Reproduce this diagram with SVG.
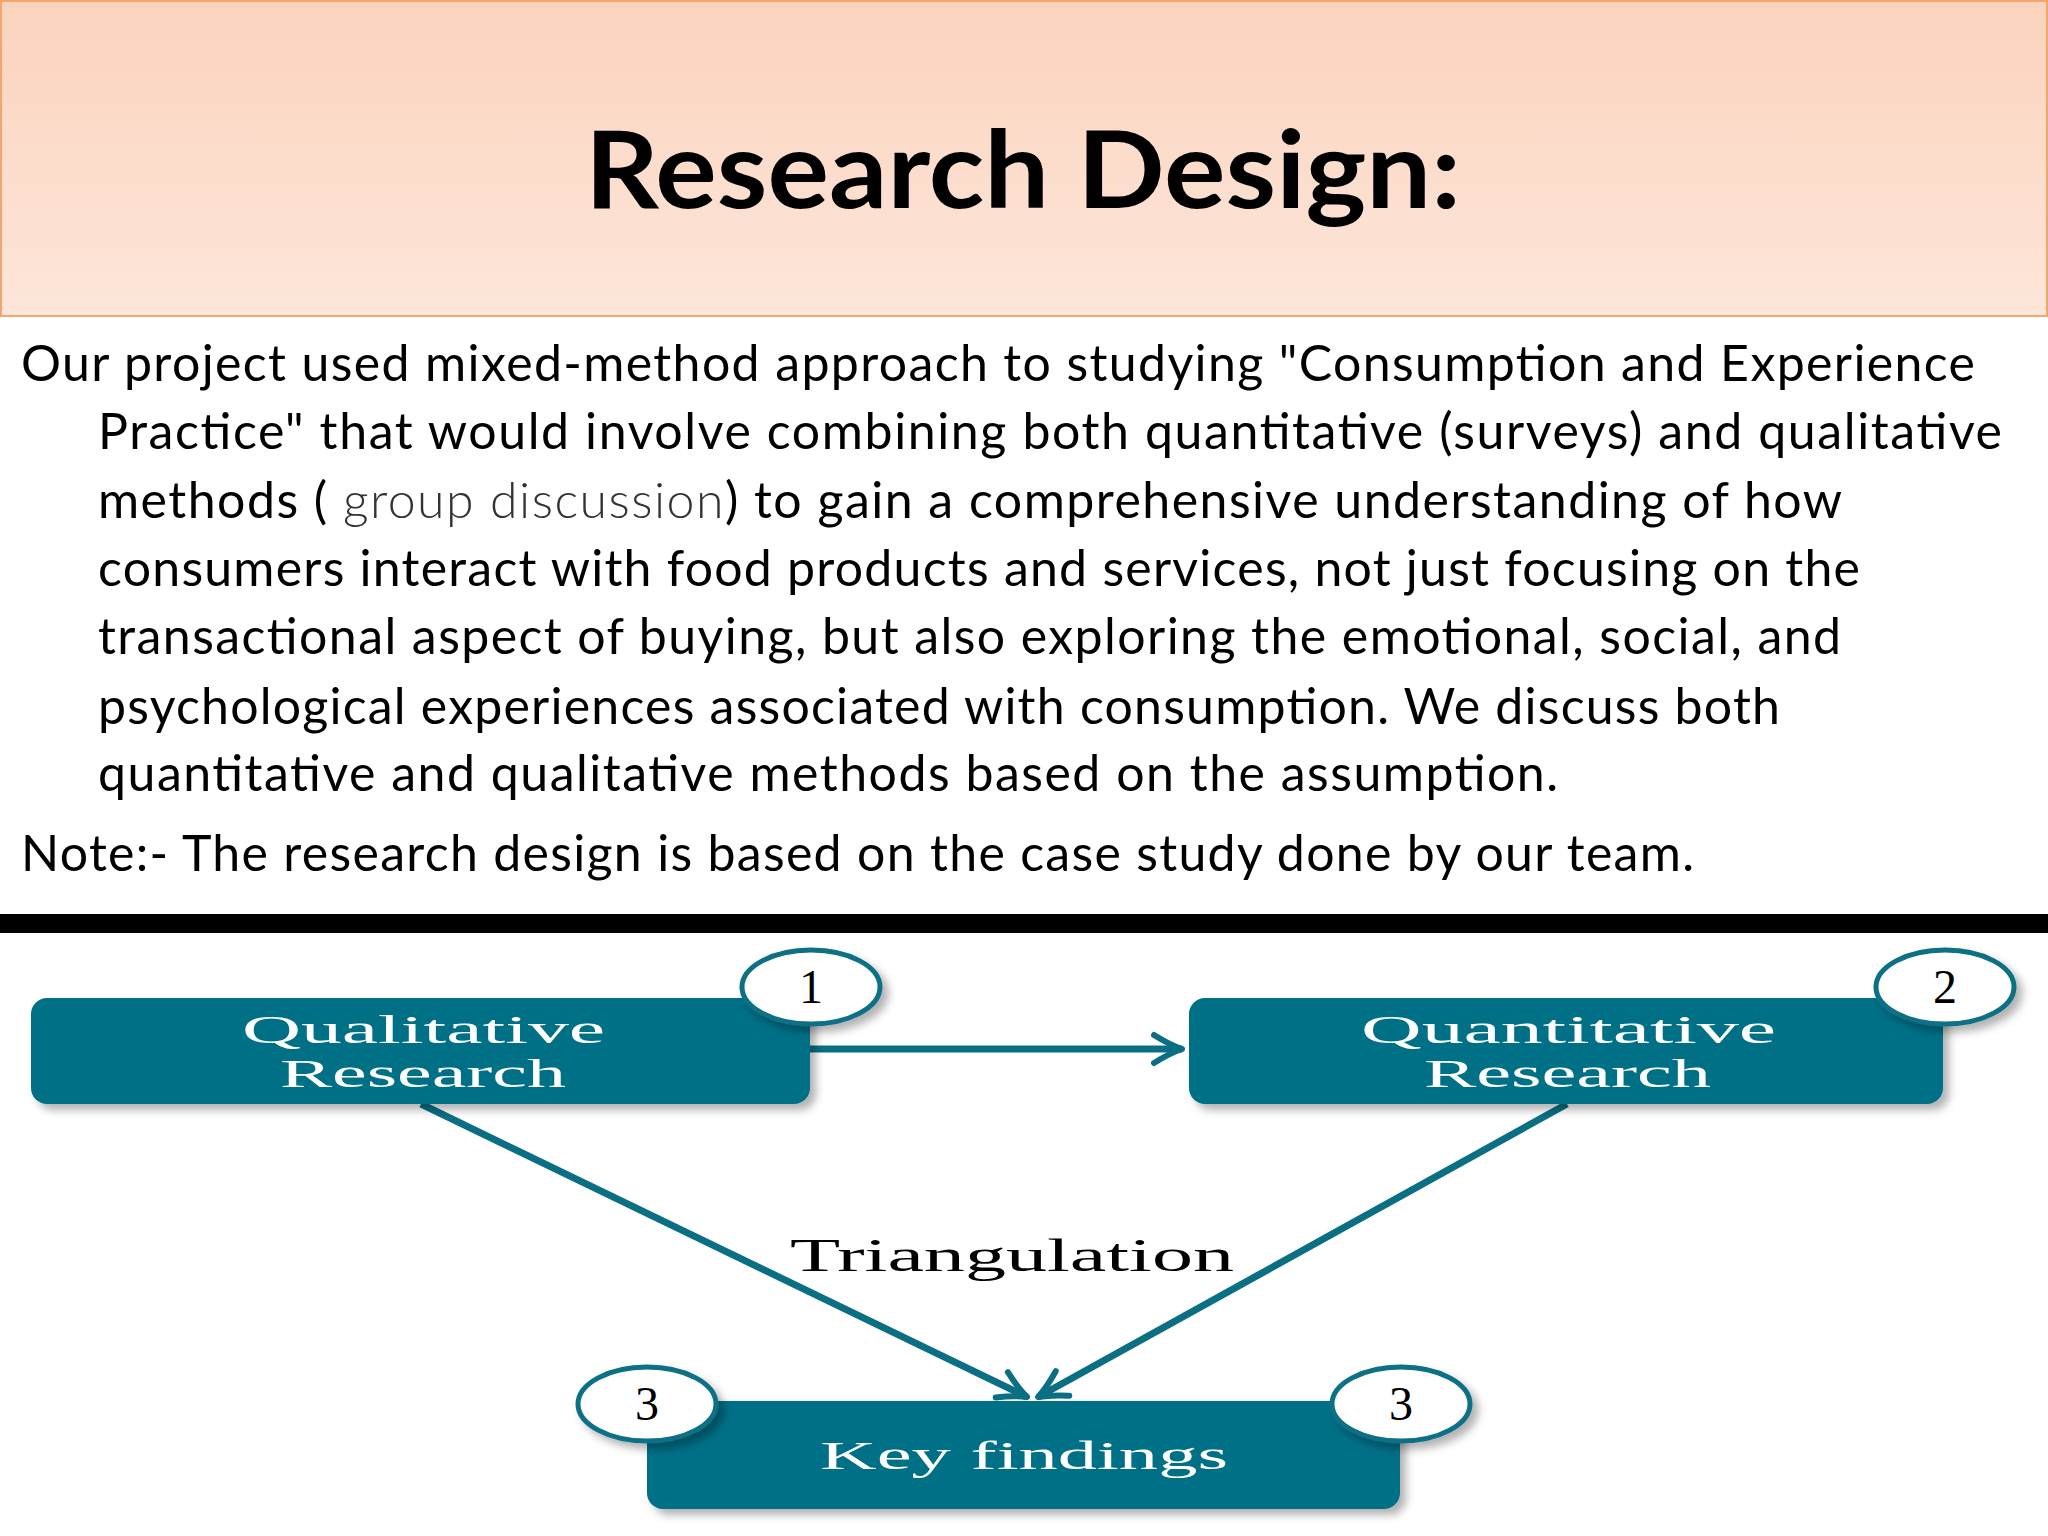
<svg xmlns="http://www.w3.org/2000/svg" width="2048" height="1536" viewBox="0 0 2048 1536">
<defs>
<linearGradient id="hg" x1="0" y1="0" x2="0" y2="1"><stop offset="0" stop-color="#fbd3bd"/><stop offset="1" stop-color="#fde6da"/></linearGradient>
<filter id="sh" x="-10%" y="-20%" width="125%" height="150%"><feDropShadow dx="6" dy="6" stdDeviation="4" flood-color="#000" flood-opacity="0.3"/></filter>
<marker id="ah" viewBox="0 0 40 40" refX="34" refY="20" markerWidth="40" markerHeight="40" markerUnits="userSpaceOnUse" orient="auto" overflow="visible">
<path d="M6,6 Q22,16 34,20 Q22,24 6,34" fill="none" stroke="#0b6f84" stroke-width="6" stroke-linecap="round" stroke-linejoin="round"/>
</marker>
<style>
.body{font-family:Lato,"Open Sans",sans-serif;font-size:50px;fill:#000}
.box{fill:#006f87;filter:url(#sh)}
.bt{font-family:"Liberation Serif","DejaVu Serif",serif;font-size:40px;fill:#fff}
.num{fill:#fff;stroke:#0b6f84;stroke-width:5;filter:url(#sh)}
.nt{font-family:"Liberation Serif","DejaVu Serif",serif;font-size:48px;fill:#000;text-anchor:middle}
.con{stroke:#0b6f84;stroke-width:7;fill:none}
</style>
</defs>
<rect width="2048" height="1536" fill="#fff"/>
<g id="header">
<rect x="1" y="1" width="2046" height="315" fill="url(#hg)" stroke="#f3a66e" stroke-width="2"/>
<text x="1023" y="208" text-anchor="middle" font-family="Lato,'Open Sans',sans-serif" font-weight="bold" font-size="108" textLength="876" lengthAdjust="spacingAndGlyphs">Research Design:</text>
</g>
<g id="body">
<text class="body" x="21" y="381" textLength="1954">Our project used mixed-method approach to studying "Consumption and Experience</text>
<text class="body" x="98" y="449" textLength="1904">Practice" that would  involve combining both quantitative (surveys) and qualitative</text>
<text class="body" x="98" y="518" textLength="1744">methods ( <tspan fill="#333" font-weight="300">group discussion</tspan>) to gain a comprehensive understanding of how</text>
<text class="body" x="98" y="586" textLength="1762">consumers interact with food products and services, not just focusing on the</text>
<text class="body" x="98" y="654" textLength="1743">transactional aspect of buying, but also exploring the emotional, social, and</text>
<text class="body" x="98" y="724" textLength="1682">psychological experiences associated with consumption. We discuss both</text>
<text class="body" x="98" y="791" textLength="1460">quantitative and qualitative methods based on the assumption.</text>
<text class="body" x="21" y="871" textLength="1673">Note:- The research design is based on the case study done by our team.</text>
</g>
<rect id="bar" x="0" y="914" width="2048" height="19" fill="#000"/>
<g id="connectors">
<line class="con" x1="810" y1="1049" x2="1182" y2="1049" marker-end="url(#ah)"/>
<line class="con" x1="421" y1="1104" x2="1027" y2="1397" marker-end="url(#ah)"/>
<line class="con" x1="1567" y1="1104" x2="1038" y2="1397" marker-end="url(#ah)"/>
</g>
<text id="triangulation" x="790" y="1271" font-family="'Liberation Serif',serif" font-size="46" textLength="444" lengthAdjust="spacingAndGlyphs">Triangulation</text>
<g id="qual">
<rect class="box" x="31" y="998" width="779" height="106" rx="16"/>
<text class="bt" x="242" y="1043" textLength="363" lengthAdjust="spacingAndGlyphs">Qualitative</text>
<text class="bt" x="280" y="1087" textLength="286" lengthAdjust="spacingAndGlyphs">Research</text>
<ellipse class="num" cx="811" cy="987" rx="69" ry="37"/>
<text class="nt" x="811" y="1003">1</text>
</g>
<g id="quant">
<rect class="box" x="1189" y="998" width="754" height="106" rx="16"/>
<text class="bt" x="1361" y="1043" textLength="415" lengthAdjust="spacingAndGlyphs">Quantitative</text>
<text class="bt" x="1424" y="1087" textLength="287" lengthAdjust="spacingAndGlyphs">Research</text>
<ellipse class="num" cx="1945" cy="987" rx="69" ry="37"/>
<text class="nt" x="1945" y="1003">2</text>
</g>
<g id="key">
<rect class="box" x="647" y="1401" width="753" height="108" rx="16"/>
<text class="bt" x="820" y="1469" textLength="408" lengthAdjust="spacingAndGlyphs" font-size="46">Key findings</text>
<ellipse class="num" cx="647" cy="1404" rx="69" ry="37"/>
<text class="nt" x="647" y="1420">3</text>
<ellipse class="num" cx="1401" cy="1404" rx="69" ry="37"/>
<text class="nt" x="1401" y="1420">3</text>
</g>
</svg>
